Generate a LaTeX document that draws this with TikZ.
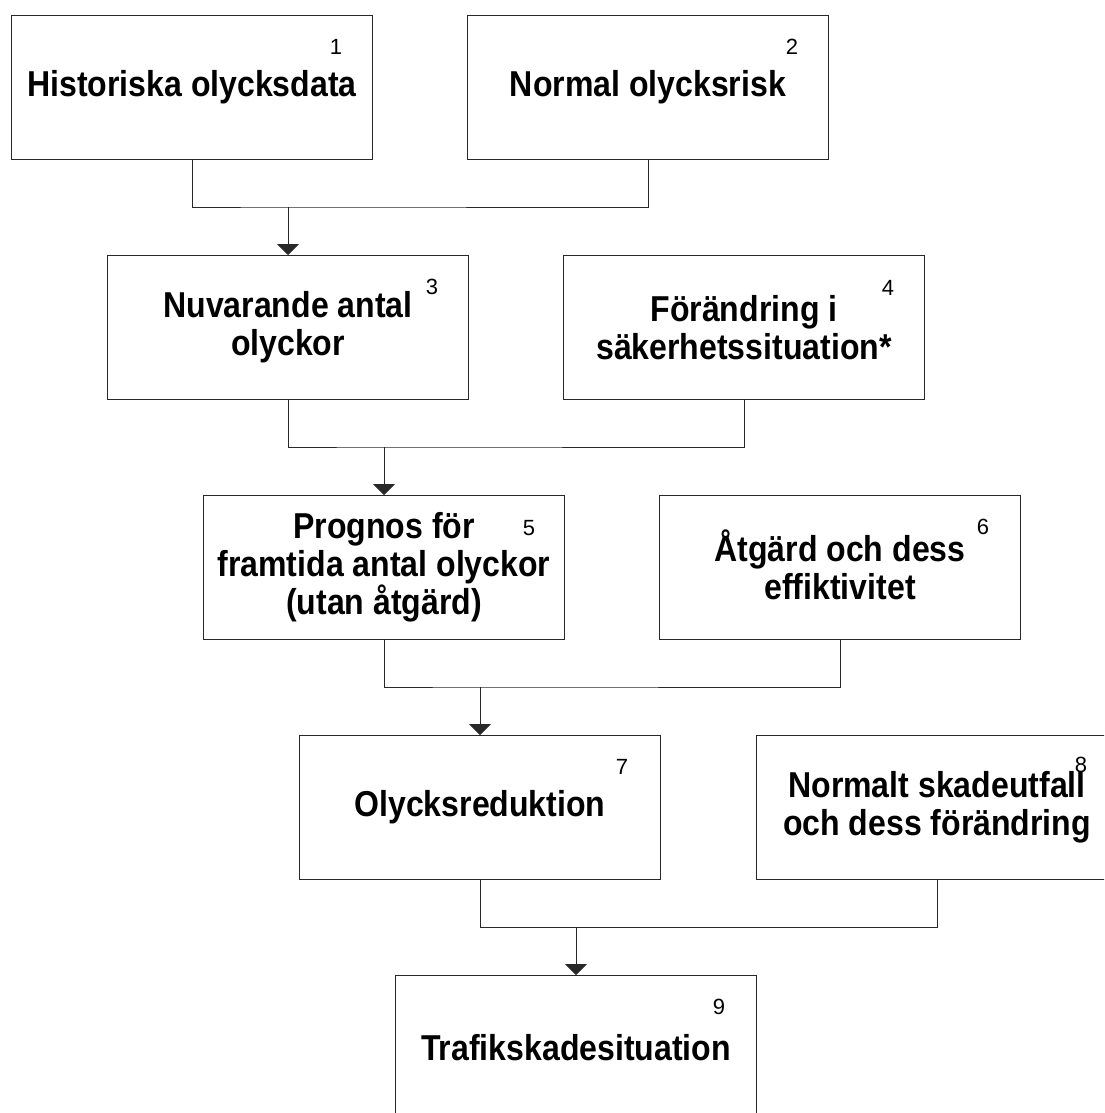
\documentclass[tikz,border=0pt]{standalone}
\usepackage{fontspec}
\setmainfont{Liberation Sans}[FakeStretch=0.89]
\newfontfamily\numfont{Liberation Sans}
\usetikzlibrary{arrows.meta,calc}
\definecolor{edge}{RGB}{40,40,40}
\tikzset{
  box/.style={draw=edge, line width=1pt, minimum width=361pt, minimum height=144pt,
    inner sep=0pt, anchor=north west, align=center,
    font=\bfseries\fontsize{36}{38}\selectfont},
  num/.style={anchor=center, inner sep=0pt, font=\numfont\fontsize{22}{26}\selectfont},
  link/.style={draw=edge, line width=1pt},
  arr/.style={link, -{Triangle[width=22pt,length=11pt]}}
}
\begin{document}
\begin{tikzpicture}[x=1pt,y=-1pt]
\useasboundingbox (0,0) rectangle (1104,1113);
\clip (0,0) rectangle (1104,1113);
\fill[white] (0,0) rectangle (1104,1113);
% boxes
\node[box] (b1) at (11,15)  {Historiska olycksdata};
\node[box] (b2) at (467,15) {Normal olycksrisk};
\node[box] (b3) at (107,255) {Nuvarande antal\\olyckor};
\node[box] (b4) at (563,255) {Förändring i\\säkerhetssituation*};
\node[box] (b5) at (203,495) {Prognos för\\framtida antal olyckor\\(utan åtgärd)};
\node[box] (b6) at (659,495) {\smash{Å}tgärd och dess\\effiktivitet};
\node[box] (b7) at (299,735) {Olycksreduktion};
\node[box] (b8) at (756,735) {Normalt skadeutfall\\och dess förändring};
\node[box] (b9) at (395,975) {Trafikskadesituation};
% numbers
\node[num] (n1) at ($(b1.north east)+(-37,32)$) {1};
\node[num] (n2) at ($(b2.north east)+(-37,32)$) {2};
\node[num] (n3) at ($(b3.north east)+(-37,32)$) {3};
\node[num] (n4) at ($(b4.north east)+(-37,33)$) {4};
\node[num] (n5) at ($(b5.north east)+(-36,33)$) {5};
\node[num] (n6) at ($(b6.north east)+(-38,32)$) {6};
\node[num] (n7) at ($(b7.north east)+(-39,32)$) {7};
\node[num] (n8) at ($(b8.north east)+(-37,30)$) {8};
\node[num] (n9) at ($(b9.north east)+(-38,32)$) {9};
% junctions
\coordinate (j1) at (b3.north |- 0,207);
\coordinate (j2) at (b5.north |- 0,447);
\coordinate (j3) at (b7.north |- 0,687);
\coordinate (j4) at (b9.north |- 0,927);
\draw[link] (b1.south) |- (j1) -| (b2.south);
\draw[link] (b3.south) |- (j2) -| (b4.south);
\draw[link] (b5.south) |- (j3) -| (b6.south);
\draw[link] (b7.south) |- (j4) -| (b8.south);
\draw[arr] (j1) -- (b3.north);
\draw[arr] (j2) -- (b5.north);
\draw[arr] (j3) -- (b7.north);
\draw[arr] (j4) -- (b9.north);
\end{tikzpicture}
\end{document}
